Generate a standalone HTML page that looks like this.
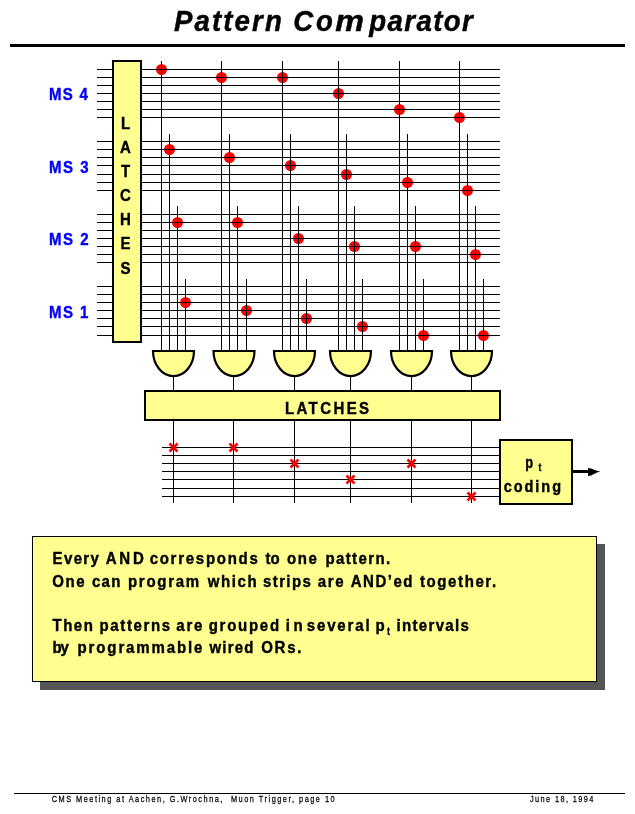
<!DOCTYPE html>
<html><head><meta charset="utf-8"><title>Pattern Comparator</title>
<style>
html,body{margin:0;padding:0;background:#fff;}
body{width:635px;height:814px;position:relative;overflow:hidden;}
svg text{font-family:"Liberation Sans",sans-serif;white-space:pre;}
</style></head>
<body>
<svg width="635" height="814" viewBox="0 0 635 814" style="position:absolute;left:0;top:0;will-change:transform" shape-rendering="crispEdges">
<rect x="10" y="44" width="615" height="3" fill="#000"/>
<rect x="97" y="69" width="403" height="1" fill="#000"/>
<rect x="97" y="77" width="403" height="1" fill="#000"/>
<rect x="97" y="85" width="403" height="1" fill="#000"/>
<rect x="97" y="93" width="403" height="1" fill="#000"/>
<rect x="97" y="101" width="403" height="1" fill="#000"/>
<rect x="97" y="109" width="403" height="1" fill="#000"/>
<rect x="97" y="117" width="403" height="1" fill="#000"/>
<rect x="97" y="141" width="403" height="1" fill="#000"/>
<rect x="97" y="149" width="403" height="1" fill="#000"/>
<rect x="97" y="157" width="403" height="1" fill="#000"/>
<rect x="97" y="165" width="403" height="1" fill="#000"/>
<rect x="97" y="174" width="403" height="1" fill="#000"/>
<rect x="97" y="182" width="403" height="1" fill="#000"/>
<rect x="97" y="190" width="403" height="1" fill="#000"/>
<rect x="97" y="214" width="403" height="1" fill="#000"/>
<rect x="97" y="222" width="403" height="1" fill="#000"/>
<rect x="97" y="230" width="403" height="1" fill="#000"/>
<rect x="97" y="238" width="403" height="1" fill="#000"/>
<rect x="97" y="246" width="403" height="1" fill="#000"/>
<rect x="97" y="254" width="403" height="1" fill="#000"/>
<rect x="97" y="262" width="403" height="1" fill="#000"/>
<rect x="97" y="286" width="403" height="1" fill="#000"/>
<rect x="97" y="294" width="403" height="1" fill="#000"/>
<rect x="97" y="302" width="403" height="1" fill="#000"/>
<rect x="97" y="310" width="403" height="1" fill="#000"/>
<rect x="97" y="318" width="403" height="1" fill="#000"/>
<rect x="97" y="326" width="403" height="1" fill="#000"/>
<rect x="97" y="335" width="403" height="1" fill="#000"/>
<rect x="161" y="61" width="1" height="290" fill="#000"/>
<rect x="169" y="134" width="1" height="217" fill="#000"/>
<rect x="177" y="206" width="1" height="145" fill="#000"/>
<rect x="185" y="279" width="1" height="72" fill="#000"/>
<rect x="221" y="61" width="1" height="290" fill="#000"/>
<rect x="229" y="134" width="1" height="217" fill="#000"/>
<rect x="237" y="206" width="1" height="145" fill="#000"/>
<rect x="246" y="279" width="1" height="72" fill="#000"/>
<rect x="282" y="61" width="1" height="290" fill="#000"/>
<rect x="290" y="134" width="1" height="217" fill="#000"/>
<rect x="298" y="206" width="1" height="145" fill="#000"/>
<rect x="306" y="279" width="1" height="72" fill="#000"/>
<rect x="338" y="61" width="1" height="290" fill="#000"/>
<rect x="346" y="134" width="1" height="217" fill="#000"/>
<rect x="354" y="206" width="1" height="145" fill="#000"/>
<rect x="362" y="279" width="1" height="72" fill="#000"/>
<rect x="399" y="61" width="1" height="290" fill="#000"/>
<rect x="407" y="134" width="1" height="217" fill="#000"/>
<rect x="415" y="206" width="1" height="145" fill="#000"/>
<rect x="423" y="279" width="1" height="72" fill="#000"/>
<rect x="459" y="61" width="1" height="290" fill="#000"/>
<rect x="467" y="134" width="1" height="217" fill="#000"/>
<rect x="475" y="206" width="1" height="145" fill="#000"/>
<rect x="483" y="279" width="1" height="72" fill="#000"/>
<rect x="173" y="376" width="1" height="127" fill="#000"/>
<rect x="233" y="376" width="1" height="127" fill="#000"/>
<rect x="294" y="376" width="1" height="127" fill="#000"/>
<rect x="350" y="376" width="1" height="127" fill="#000"/>
<rect x="411" y="376" width="1" height="127" fill="#000"/>
<rect x="471" y="376" width="1" height="127" fill="#000"/>
<rect x="162" y="447" width="340" height="1" fill="#000"/>
<rect x="162" y="455" width="340" height="1" fill="#000"/>
<rect x="162" y="463" width="340" height="1" fill="#000"/>
<rect x="162" y="471" width="340" height="1" fill="#000"/>
<rect x="162" y="479" width="340" height="1" fill="#000"/>
<rect x="162" y="488" width="340" height="1" fill="#000"/>
<rect x="162" y="496" width="340" height="1" fill="#000"/>
<rect x="113" y="61" width="28" height="281" fill="#FFFF90" stroke="#000" stroke-width="2"/>
<rect x="145" y="391" width="355" height="29" fill="#FFFF90" stroke="#000" stroke-width="2"/>
<rect x="500" y="440" width="72" height="64" fill="#FFFF90" stroke="#000" stroke-width="2"/>
<rect x="573" y="470" width="16" height="3" fill="#000"/>
<polygon points="588,468 591,468.4 597,470.8 600.3,471.4 597,472.6 591,475.6 588,476" fill="#000" shape-rendering="auto"/>
<path d="M153.0,351 L194.0,351 A20.5,25.2 0 0 1 153.0,351 Z" fill="#FFFF90" stroke="#000" stroke-width="2.2" stroke-linejoin="miter" shape-rendering="auto"/>
<path d="M213.5,351 L254.5,351 A20.5,25.2 0 0 1 213.5,351 Z" fill="#FFFF90" stroke="#000" stroke-width="2.2" stroke-linejoin="miter" shape-rendering="auto"/>
<path d="M274.0,351 L315.0,351 A20.5,25.2 0 0 1 274.0,351 Z" fill="#FFFF90" stroke="#000" stroke-width="2.2" stroke-linejoin="miter" shape-rendering="auto"/>
<path d="M330.0,351 L371.0,351 A20.5,25.2 0 0 1 330.0,351 Z" fill="#FFFF90" stroke="#000" stroke-width="2.2" stroke-linejoin="miter" shape-rendering="auto"/>
<path d="M391.0,351 L432.0,351 A20.5,25.2 0 0 1 391.0,351 Z" fill="#FFFF90" stroke="#000" stroke-width="2.2" stroke-linejoin="miter" shape-rendering="auto"/>
<path d="M451.0,351 L492.0,351 A20.5,25.2 0 0 1 451.0,351 Z" fill="#FFFF90" stroke="#000" stroke-width="2.2" stroke-linejoin="miter" shape-rendering="auto"/>
<circle cx="161.5" cy="69.5" r="5.5" fill="#FF0000" shape-rendering="auto"/>
<rect x="161" y="63.0" width="1" height="13" fill="#000"/>
<rect x="155.0" y="69" width="13" height="1" fill="#000"/>
<circle cx="169.5" cy="149.5" r="5.5" fill="#FF0000" shape-rendering="auto"/>
<rect x="169" y="143.0" width="1" height="13" fill="#000"/>
<rect x="163.0" y="149" width="13" height="1" fill="#000"/>
<circle cx="177.5" cy="222.5" r="5.5" fill="#FF0000" shape-rendering="auto"/>
<rect x="177" y="216.0" width="1" height="13" fill="#000"/>
<rect x="171.0" y="222" width="13" height="1" fill="#000"/>
<circle cx="185.5" cy="302.5" r="5.5" fill="#FF0000" shape-rendering="auto"/>
<rect x="185" y="296.0" width="1" height="13" fill="#000"/>
<rect x="179.0" y="302" width="13" height="1" fill="#000"/>
<circle cx="221.5" cy="77.5" r="5.5" fill="#FF0000" shape-rendering="auto"/>
<rect x="221" y="71.0" width="1" height="13" fill="#000"/>
<rect x="215.0" y="77" width="13" height="1" fill="#000"/>
<circle cx="229.5" cy="157.5" r="5.5" fill="#FF0000" shape-rendering="auto"/>
<rect x="229" y="151.0" width="1" height="13" fill="#000"/>
<rect x="223.0" y="157" width="13" height="1" fill="#000"/>
<circle cx="237.5" cy="222.5" r="5.5" fill="#FF0000" shape-rendering="auto"/>
<rect x="237" y="216.0" width="1" height="13" fill="#000"/>
<rect x="231.0" y="222" width="13" height="1" fill="#000"/>
<circle cx="246.5" cy="310.5" r="5.5" fill="#FF0000" shape-rendering="auto"/>
<rect x="246" y="304.0" width="1" height="13" fill="#000"/>
<rect x="240.0" y="310" width="13" height="1" fill="#000"/>
<circle cx="282.5" cy="77.5" r="5.5" fill="#FF0000" shape-rendering="auto"/>
<rect x="282" y="71.0" width="1" height="13" fill="#000"/>
<rect x="276.0" y="77" width="13" height="1" fill="#000"/>
<circle cx="290.5" cy="165.5" r="5.5" fill="#FF0000" shape-rendering="auto"/>
<rect x="290" y="159.0" width="1" height="13" fill="#000"/>
<rect x="284.0" y="165" width="13" height="1" fill="#000"/>
<circle cx="298.5" cy="238.5" r="5.5" fill="#FF0000" shape-rendering="auto"/>
<rect x="298" y="232.0" width="1" height="13" fill="#000"/>
<rect x="292.0" y="238" width="13" height="1" fill="#000"/>
<circle cx="306.5" cy="318.5" r="5.5" fill="#FF0000" shape-rendering="auto"/>
<rect x="306" y="312.0" width="1" height="13" fill="#000"/>
<rect x="300.0" y="318" width="13" height="1" fill="#000"/>
<circle cx="338.5" cy="93.5" r="5.5" fill="#FF0000" shape-rendering="auto"/>
<rect x="338" y="87.0" width="1" height="13" fill="#000"/>
<rect x="332.0" y="93" width="13" height="1" fill="#000"/>
<circle cx="346.5" cy="174.5" r="5.5" fill="#FF0000" shape-rendering="auto"/>
<rect x="346" y="168.0" width="1" height="13" fill="#000"/>
<rect x="340.0" y="174" width="13" height="1" fill="#000"/>
<circle cx="354.5" cy="246.5" r="5.5" fill="#FF0000" shape-rendering="auto"/>
<rect x="354" y="240.0" width="1" height="13" fill="#000"/>
<rect x="348.0" y="246" width="13" height="1" fill="#000"/>
<circle cx="362.5" cy="326.5" r="5.5" fill="#FF0000" shape-rendering="auto"/>
<rect x="362" y="320.0" width="1" height="13" fill="#000"/>
<rect x="356.0" y="326" width="13" height="1" fill="#000"/>
<circle cx="399.5" cy="109.5" r="5.5" fill="#FF0000" shape-rendering="auto"/>
<rect x="399" y="103.0" width="1" height="13" fill="#000"/>
<rect x="393.0" y="109" width="13" height="1" fill="#000"/>
<circle cx="407.5" cy="182.5" r="5.5" fill="#FF0000" shape-rendering="auto"/>
<rect x="407" y="176.0" width="1" height="13" fill="#000"/>
<rect x="401.0" y="182" width="13" height="1" fill="#000"/>
<circle cx="415.5" cy="246.5" r="5.5" fill="#FF0000" shape-rendering="auto"/>
<rect x="415" y="240.0" width="1" height="13" fill="#000"/>
<rect x="409.0" y="246" width="13" height="1" fill="#000"/>
<circle cx="423.5" cy="335.5" r="5.5" fill="#FF0000" shape-rendering="auto"/>
<rect x="423" y="329.0" width="1" height="13" fill="#000"/>
<rect x="417.0" y="335" width="13" height="1" fill="#000"/>
<circle cx="459.5" cy="117.5" r="5.5" fill="#FF0000" shape-rendering="auto"/>
<rect x="459" y="111.0" width="1" height="13" fill="#000"/>
<rect x="453.0" y="117" width="13" height="1" fill="#000"/>
<circle cx="467.5" cy="190.5" r="5.5" fill="#FF0000" shape-rendering="auto"/>
<rect x="467" y="184.0" width="1" height="13" fill="#000"/>
<rect x="461.0" y="190" width="13" height="1" fill="#000"/>
<circle cx="475.5" cy="254.5" r="5.5" fill="#FF0000" shape-rendering="auto"/>
<rect x="475" y="248.0" width="1" height="13" fill="#000"/>
<rect x="469.0" y="254" width="13" height="1" fill="#000"/>
<circle cx="483.5" cy="335.5" r="5.5" fill="#FF0000" shape-rendering="auto"/>
<rect x="483" y="329.0" width="1" height="13" fill="#000"/>
<rect x="477.0" y="335" width="13" height="1" fill="#000"/>
<path d="M169.5,443.5 L177.5,451.5 M177.5,443.5 L169.5,451.5" stroke="#FF0000" stroke-width="2.6" fill="none" shape-rendering="auto"/>
<path d="M229.5,443.5 L237.5,451.5 M237.5,443.5 L229.5,451.5" stroke="#FF0000" stroke-width="2.6" fill="none" shape-rendering="auto"/>
<path d="M290.5,459.5 L298.5,467.5 M298.5,459.5 L290.5,467.5" stroke="#FF0000" stroke-width="2.6" fill="none" shape-rendering="auto"/>
<path d="M346.5,475.5 L354.5,483.5 M354.5,475.5 L346.5,483.5" stroke="#FF0000" stroke-width="2.6" fill="none" shape-rendering="auto"/>
<path d="M407.5,459.5 L415.5,467.5 M415.5,459.5 L407.5,467.5" stroke="#FF0000" stroke-width="2.6" fill="none" shape-rendering="auto"/>
<path d="M467.5,492.5 L475.5,500.5 M475.5,492.5 L467.5,500.5" stroke="#FF0000" stroke-width="2.6" fill="none" shape-rendering="auto"/>
<rect x="40" y="544" width="565" height="146" fill="#555555"/>
<rect x="32.5" y="536.5" width="564" height="145" fill="#FFFF90" stroke="#000" stroke-width="1"/>
<rect x="14" y="793" width="611" height="1" fill="#000"/>
<text x="173.9" y="31.0" font-size="29.4" font-weight="bold" font-style="italic" fill="#000" letter-spacing="2.276" text-anchor="start" stroke="#000" stroke-width="0.45" transform="translate(173.9,0) scale(0.94,1) translate(-173.9,0)">Pattern</text>
<text x="293.38" y="31.0" font-size="29.4" font-weight="bold" font-style="italic" fill="#000" letter-spacing="2.824" text-anchor="start" stroke="#000" stroke-width="0.45" transform="translate(293.38,0) scale(0.94,1) translate(-293.38,0)">Co</text>
<text x="335.16" y="31.0" font-size="29.4" font-weight="bold" font-style="italic" fill="#000" letter-spacing="2.3" text-anchor="start" stroke="#000" stroke-width="0.45" transform="translate(335.16,0) scale(1.1,1) translate(-335.16,0)">m</text>
<text x="369.2" y="31.0" font-size="29.4" font-weight="bold" font-style="italic" fill="#000" letter-spacing="1.494" text-anchor="start" stroke="#000" stroke-width="0.45" transform="translate(369.2,0) scale(0.94,1) translate(-369.2,0)">parator</text>
<text x="48.96" y="100.0" font-size="16.7" font-weight="bold" font-style="normal" fill="#0000FF" letter-spacing="1.442" text-anchor="start" stroke="#0000FF" stroke-width="0.4" transform="translate(48.96,0) scale(0.9,1) translate(-48.96,0)">MS 4</text>
<text x="48.96" y="173.0" font-size="16.7" font-weight="bold" font-style="normal" fill="#0000FF" letter-spacing="1.675" text-anchor="start" stroke="#0000FF" stroke-width="0.4" transform="translate(48.96,0) scale(0.9,1) translate(-48.96,0)">MS 3</text>
<text x="48.96" y="245.0" font-size="16.7" font-weight="bold" font-style="normal" fill="#0000FF" letter-spacing="1.661" text-anchor="start" stroke="#0000FF" stroke-width="0.4" transform="translate(48.96,0) scale(0.9,1) translate(-48.96,0)">MS 2</text>
<text x="48.96" y="318.0" font-size="16.7" font-weight="bold" font-style="normal" fill="#0000FF" letter-spacing="1.63" text-anchor="start" stroke="#0000FF" stroke-width="0.4" transform="translate(48.96,0) scale(0.9,1) translate(-48.96,0)">MS 1</text>
<text x="284.95" y="414.0" font-size="16.7" font-weight="bold" font-style="normal" fill="#000" letter-spacing="2.65" text-anchor="start" stroke="#000" stroke-width="0.4" transform="translate(284.95,0) scale(0.9,1) translate(-284.95,0)">LATCHES</text>
<text x="525.26" y="468.0" font-size="16.5" font-weight="bold" font-style="normal" fill="#000" letter-spacing="0" text-anchor="start" stroke="#000" stroke-width="0.4" transform="translate(525.26,0) scale(0.78,1) translate(-525.26,0)">p</text>
<text x="538.4" y="471.3" font-size="11.5" font-weight="bold" font-style="normal" fill="#000" letter-spacing="0" text-anchor="start" stroke="#000" stroke-width="0.3" transform="translate(538.4,0) scale(0.75,1) translate(-538.4,0)">t</text>
<text x="503.7" y="491.8" font-size="16.5" font-weight="bold" font-style="normal" fill="#000" letter-spacing="2.224" text-anchor="start" stroke="#000" stroke-width="0.4" transform="translate(503.7,0) scale(0.88,1) translate(-503.7,0)">coding</text>
<text x="52.5" y="564.0" font-size="16.7" font-weight="bold" font-style="normal" fill="#000" letter-spacing="1.534" text-anchor="start" stroke="#000" stroke-width="0.4" transform="translate(52.5,0) scale(0.9,1) translate(-52.5,0)">Every</text>
<text x="105.78" y="564.0" font-size="16.7" font-weight="bold" font-style="normal" fill="#000" letter-spacing="3.015" text-anchor="start" stroke="#000" stroke-width="0.4" transform="translate(105.78,0) scale(0.9,1) translate(-105.78,0)">AND</text>
<text x="149.65" y="564.0" font-size="16.7" font-weight="bold" font-style="normal" fill="#000" letter-spacing="1.916" text-anchor="start" stroke="#000" stroke-width="0.4" transform="translate(149.65,0) scale(0.9,1) translate(-149.65,0)">corresponds</text>
<text x="265.6" y="564.0" font-size="16.7" font-weight="bold" font-style="normal" fill="#000" letter-spacing="-0.164" text-anchor="start" stroke="#000" stroke-width="0.4" transform="translate(265.6,0) scale(0.9,1) translate(-265.6,0)">to</text>
<text x="286.94" y="564.0" font-size="16.7" font-weight="bold" font-style="normal" fill="#000" letter-spacing="1.853" text-anchor="start" stroke="#000" stroke-width="0.4" transform="translate(286.94,0) scale(0.9,1) translate(-286.94,0)">one</text>
<text x="325.5" y="564.0" font-size="16.7" font-weight="bold" font-style="normal" fill="#000" letter-spacing="1.513" text-anchor="start" stroke="#000" stroke-width="0.4" transform="translate(325.5,0) scale(0.9,1) translate(-325.5,0)">pattern.</text>
<text x="52.23" y="587.0" font-size="16.7" font-weight="bold" font-style="normal" fill="#000" letter-spacing="1.789" text-anchor="start" stroke="#000" stroke-width="0.4" transform="translate(52.23,0) scale(0.9,1) translate(-52.23,0)">One</text>
<text x="91.94" y="587.0" font-size="16.7" font-weight="bold" font-style="normal" fill="#000" letter-spacing="1.45" text-anchor="start" stroke="#000" stroke-width="0.4" transform="translate(91.94,0) scale(0.9,1) translate(-91.94,0)">can</text>
<text x="127.97" y="587.0" font-size="16.7" font-weight="bold" font-style="normal" fill="#000" letter-spacing="1.904" text-anchor="start" stroke="#000" stroke-width="0.4" transform="translate(127.97,0) scale(0.9,1) translate(-127.97,0)">program</text>
<text x="207.87" y="587.0" font-size="16.7" font-weight="bold" font-style="normal" fill="#000" letter-spacing="1.744" text-anchor="start" stroke="#000" stroke-width="0.4" transform="translate(207.87,0) scale(0.9,1) translate(-207.87,0)">which</text>
<text x="263.07" y="587.0" font-size="16.7" font-weight="bold" font-style="normal" fill="#000" letter-spacing="1.521" text-anchor="start" stroke="#000" stroke-width="0.4" transform="translate(263.07,0) scale(0.9,1) translate(-263.07,0)">strips</text>
<text x="317.7" y="587.0" font-size="16.7" font-weight="bold" font-style="normal" fill="#000" letter-spacing="1.855" text-anchor="start" stroke="#000" stroke-width="0.4" transform="translate(317.7,0) scale(0.9,1) translate(-317.7,0)">are</text>
<text x="350.74" y="587.0" font-size="16.7" font-weight="bold" font-style="normal" fill="#000" letter-spacing="1.656" text-anchor="start" stroke="#000" stroke-width="0.4" transform="translate(350.74,0) scale(0.9,1) translate(-350.74,0)">AND’ed</text>
<text x="420.0" y="587.0" font-size="16.7" font-weight="bold" font-style="normal" fill="#000" letter-spacing="1.763" text-anchor="start" stroke="#000" stroke-width="0.4" transform="translate(420.0,0) scale(0.9,1) translate(-420.0,0)">together.</text>
<text x="52.4" y="631.0" font-size="16.7" font-weight="bold" font-style="normal" fill="#000" letter-spacing="1.734" text-anchor="start" stroke="#000" stroke-width="0.4" transform="translate(52.4,0) scale(0.9,1) translate(-52.4,0)">Then</text>
<text x="99.58" y="631.0" font-size="16.7" font-weight="bold" font-style="normal" fill="#000" letter-spacing="1.796" text-anchor="start" stroke="#000" stroke-width="0.4" transform="translate(99.58,0) scale(0.9,1) translate(-99.58,0)">patterns</text>
<text x="176.32" y="631.0" font-size="16.7" font-weight="bold" font-style="normal" fill="#000" letter-spacing="1.937" text-anchor="start" stroke="#000" stroke-width="0.4" transform="translate(176.32,0) scale(0.9,1) translate(-176.32,0)">are</text>
<text x="208.66" y="631.0" font-size="16.7" font-weight="bold" font-style="normal" fill="#000" letter-spacing="1.92" text-anchor="start" stroke="#000" stroke-width="0.4" transform="translate(208.66,0) scale(0.9,1) translate(-208.66,0)">grouped</text>
<text x="285.74" y="631.0" font-size="16.7" font-weight="bold" font-style="normal" fill="#000" letter-spacing="3.932" text-anchor="start" stroke="#000" stroke-width="0.4" transform="translate(285.74,0) scale(0.9,1) translate(-285.74,0)">in</text>
<text x="306.73" y="631.0" font-size="16.7" font-weight="bold" font-style="normal" fill="#000" letter-spacing="2.064" text-anchor="start" stroke="#000" stroke-width="0.4" transform="translate(306.73,0) scale(0.9,1) translate(-306.73,0)">several</text>
<text x="375.5" y="631.0" font-size="16.7" font-weight="bold" font-style="normal" fill="#000" letter-spacing="1.6" text-anchor="start" stroke="#000" stroke-width="0.4" transform="translate(375.5,0) scale(0.9,1) translate(-375.5,0)">p</text>
<text x="396.42" y="631.0" font-size="16.7" font-weight="bold" font-style="normal" fill="#000" letter-spacing="1.487" text-anchor="start" stroke="#000" stroke-width="0.4" transform="translate(396.42,0) scale(0.9,1) translate(-396.42,0)">intervals</text>
<text x="387.11" y="635.0" font-size="11.5" font-weight="bold" font-style="normal" fill="#000" letter-spacing="0" text-anchor="start" stroke="#000" stroke-width="0.3" transform="translate(387.11,0) scale(0.78,1) translate(-387.11,0)">t</text>
<text x="52.5" y="653.0" font-size="16.7" font-weight="bold" font-style="normal" fill="#000" letter-spacing="-1.181" text-anchor="start" stroke="#000" stroke-width="0.4" transform="translate(52.5,0) scale(0.9,1) translate(-52.5,0)">by</text>
<text x="77.58" y="653.0" font-size="16.7" font-weight="bold" font-style="normal" fill="#000" letter-spacing="2.072" text-anchor="start" stroke="#000" stroke-width="0.4" transform="translate(77.58,0) scale(0.9,1) translate(-77.58,0)">programmable</text>
<text x="209.4" y="653.0" font-size="16.7" font-weight="bold" font-style="normal" fill="#000" letter-spacing="1.35" text-anchor="start" stroke="#000" stroke-width="0.4" transform="translate(209.4,0) scale(0.9,1) translate(-209.4,0)">wired</text>
<text x="261.17" y="653.0" font-size="16.7" font-weight="bold" font-style="normal" fill="#000" letter-spacing="1.91" text-anchor="start" stroke="#000" stroke-width="0.4" transform="translate(261.17,0) scale(0.9,1) translate(-261.17,0)">ORs.</text>
<text x="51.7" y="802" font-size="9.7" font-weight="normal" font-style="normal" fill="#000" letter-spacing="1.973" text-anchor="start" stroke="#000" stroke-width="0.25" transform="translate(51.7,0) scale(0.76,1) translate(-51.7,0)">CMS Meeting at Aachen, G.Wrochna,  Muon Trigger, page 10</text>
<text x="529.92" y="802" font-size="9.7" font-weight="normal" font-style="normal" fill="#000" letter-spacing="1.848" text-anchor="start" stroke="#000" stroke-width="0.25" transform="translate(529.92,0) scale(0.76,1) translate(-529.92,0)">June 18, 1994</text>
<text x="125.5" y="129" font-size="16.7" font-weight="bold" font-style="normal" fill="#000" letter-spacing="0" text-anchor="middle" stroke="#000" stroke-width="0.4" transform="translate(125.5,0) scale(0.9,1) translate(-125.5,0)">L</text>
<text x="125.5" y="153" font-size="16.7" font-weight="bold" font-style="normal" fill="#000" letter-spacing="0" text-anchor="middle" stroke="#000" stroke-width="0.4" transform="translate(125.5,0) scale(0.9,1) translate(-125.5,0)">A</text>
<text x="125.5" y="177" font-size="16.7" font-weight="bold" font-style="normal" fill="#000" letter-spacing="0" text-anchor="middle" stroke="#000" stroke-width="0.4" transform="translate(125.5,0) scale(0.9,1) translate(-125.5,0)">T</text>
<text x="125.5" y="201" font-size="16.7" font-weight="bold" font-style="normal" fill="#000" letter-spacing="0" text-anchor="middle" stroke="#000" stroke-width="0.4" transform="translate(125.5,0) scale(0.9,1) translate(-125.5,0)">C</text>
<text x="125.5" y="225" font-size="16.7" font-weight="bold" font-style="normal" fill="#000" letter-spacing="0" text-anchor="middle" stroke="#000" stroke-width="0.4" transform="translate(125.5,0) scale(0.9,1) translate(-125.5,0)">H</text>
<text x="125.5" y="249" font-size="16.7" font-weight="bold" font-style="normal" fill="#000" letter-spacing="0" text-anchor="middle" stroke="#000" stroke-width="0.4" transform="translate(125.5,0) scale(0.9,1) translate(-125.5,0)">E</text>
<text x="125.5" y="274" font-size="16.7" font-weight="bold" font-style="normal" fill="#000" letter-spacing="0" text-anchor="middle" stroke="#000" stroke-width="0.4" transform="translate(125.5,0) scale(0.9,1) translate(-125.5,0)">S</text>
</svg>
</body></html>
